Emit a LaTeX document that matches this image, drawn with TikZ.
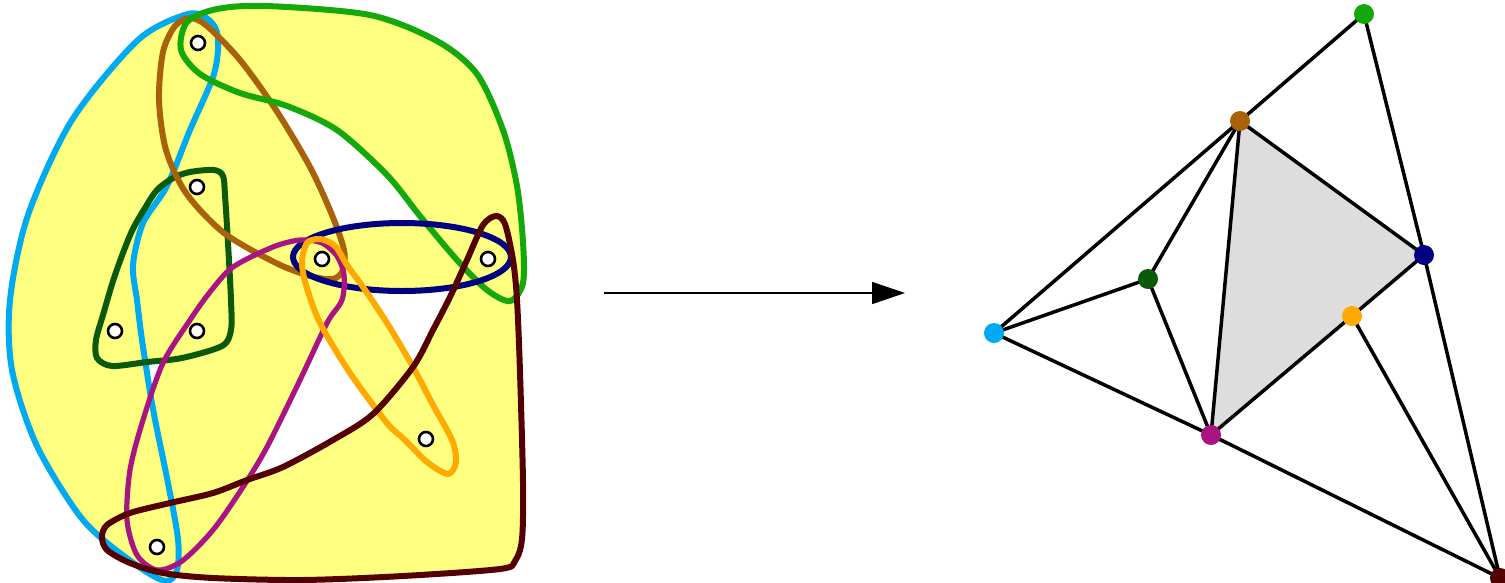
\documentclass[tikz,border=0pt]{standalone}
\usetikzlibrary{arrows.meta}

\definecolor{hyYellow}{RGB}{255,255,128}
\definecolor{cLightBlue}{RGB}{0,170,240}
\definecolor{cGreen}{RGB}{20,168,10}
\definecolor{cBrown}{RGB}{170,98,10}
\definecolor{cDarkGreen}{RGB}{10,90,10}
\definecolor{cNavy}{RGB}{0,0,128}
\definecolor{cMagenta}{RGB}{170,20,130}
\definecolor{cOrange}{RGB}{255,170,0}
\definecolor{cMaroon}{RGB}{85,0,0}
\definecolor{faceGray}{RGB}{221,221,221}

% closed hyperedge outlines
\newcommand\lbLoop{plot[smooth cycle] coordinates {(188,14) (209,20) (218,37) (214,74) (190,130) (167,186) (143,223) (133,265) (137,300) (142,340) (153,409) (168,483) (178,539) (177,570) (165,581) (132,562) (83,520) (37,446) (12,370) (10,300) (28,215) (72,120) (138,40)}}
\newcommand\grLoop{plot[smooth cycle] coordinates {(187,22) (217,9) (267,6) (370,15) (437,41) (477,74) (503,130) (517,186) (523,242) (523,283) (510,301) (487,290) (457,260) (420,216) (387,175) (337,130) (287,106) (240,93) (200,74) (181,50)}}
\newcommand\brLoop{plot[smooth cycle] coordinates {(190,18) (207,26) (240,60) (276,110) (310,167) (332,215) (344,250) (343,270) (333,279) (310,276) (276,263) (224,233) (186,193) (166,150) (159,100) (163,52) (175,26)}}
\newcommand\dgLoop{plot[smooth cycle] coordinates {(173,178) (190,172) (214,170) (223,176) (225,195) (228,243) (231,300) (231,330) (222,346) (182,358) (147,362) (112,366) (97,358) (96,340) (103,315) (115,275) (131,233) (145,208) (157,190)}}
\newcommand\nvLoop{(402,257) ellipse [x radius=109pt, y radius=34pt]}
\newcommand\mgLoop{plot[smooth cycle] coordinates {(300,240) (322,243) (337,256) (344,275) (342,300) (327,323) (300,380) (267,447) (243,487) (213,530) (182,561) (157,570) (137,555) (127,520) (130,470) (143,420) (163,363) (190,320) (210,292) (233,267) (273,247)}}
\newcommand\orLoop{plot[smooth cycle] coordinates {(307,243) (320,239) (335,246) (347,265) (363,287) (387,323) (413,367) (433,405) (452,440) (456,462) (448,474) (427,462) (405,440) (387,423) (350,373) (320,323) (306,285) (302,262)}}
\newcommand\mrLoop{plot[smooth cycle] coordinates {(496,216) (505,224) (513,260) (517,300) (520,372) (523,483) (522,539) (515,561) (500,569) (403,576) (303,580) (213,578) (163,573) (130,563) (107,550) (102,537) (107,525) (130,513) (170,503) (213,493) (247,480) (283,467) (333,440) (373,414) (413,367) (433,330) (450,297) (467,260) (483,225)}}

\begin{document}
\begin{tikzpicture}[x=1pt,y=-1pt,
  hyedge/.style={line width=6pt, line join=round},
  hyvert/.style={circle, draw=black, fill=white, line width=2.6pt, minimum size=14pt, inner sep=0pt},
  gvert/.style={circle, fill=#1, minimum size=20pt, inner sep=0pt},
  gedge/.style={line width=3.5pt, black}]
\useasboundingbox (0,0) rectangle (1505,582);

% ---- hypergraph: union of the hyperedges in yellow
\fill[hyYellow] \lbLoop;
\fill[hyYellow] \grLoop;
\fill[hyYellow] \brLoop;
\fill[hyYellow] \dgLoop;
\fill[hyYellow] \nvLoop;
\fill[hyYellow] \mgLoop;
\fill[hyYellow] \orLoop;
\fill[hyYellow] \mrLoop;

% outlines
\draw[hyedge, cLightBlue] \lbLoop;
\draw[hyedge, cDarkGreen] \dgLoop;
\draw[hyedge, cBrown] \brLoop;
\draw[hyedge, cGreen] \grLoop;
\draw[hyedge, cNavy] \nvLoop;
\draw[hyedge, cMagenta, line width=5.2pt] \mgLoop;
\draw[hyedge, cOrange] \orLoop;
\draw[hyedge, cMaroon] \mrLoop;

% vertices
\node[hyvert] (h1) at (198,43) {};
\node[hyvert] (h2) at (197,187) {};
\node[hyvert] (h3) at (115,331) {};
\node[hyvert] (h4) at (197,331) {};
\node[hyvert] (h5) at (322,259) {};
\node[hyvert] (h6) at (488,259) {};
\node[hyvert] (h7) at (426,439) {};
\node[hyvert] (h8) at (157,547) {};

% ---- arrow
\coordinate (arrS) at (604,293);
\coordinate (arrE) at (905,293);
\draw[line width=1.5pt, -{Triangle[length=33pt, width=22pt]}] (arrS) -- (arrE);

% ---- graph
\coordinate (vGr) at (1364,14);
\coordinate (vBr) at (1240,121);
\coordinate (vNv) at (1424,255);
\coordinate (vDg) at (1148,279);
\coordinate (vLb) at (994,333);
\coordinate (vOr) at (1352,316);
\coordinate (vMg) at (1211,435);
\coordinate (vMr) at (1500,578);

\fill[faceGray] (vBr) -- (vNv) -- (vOr) -- (vMg) -- cycle;

\draw[gedge] (vGr) -- (vBr);
\draw[gedge] (vGr) -- (vNv);
\draw[gedge] (vBr) -- (vLb);
\draw[gedge] (vBr) -- (vDg);
\draw[gedge] (vBr) -- (vMg);
\draw[gedge] (vBr) -- (vNv);
\draw[gedge] (vDg) -- (vLb);
\draw[gedge] (vDg) -- (vMg);
\draw[gedge] (vLb) -- (vMg);
\draw[gedge] (vNv) -- (vOr);
\draw[gedge] (vOr) -- (vMg);
\draw[gedge] (vNv) -- (vMr);
\draw[gedge] (vOr) -- (vMr);
\draw[gedge] (vMg) -- (vMr);

\node[gvert=cGreen] (nGr) at (vGr) {};
\node[gvert=cBrown] (nBr) at (vBr) {};
\node[gvert=cNavy] (nNv) at (vNv) {};
\node[gvert=cDarkGreen] (nDg) at (vDg) {};
\node[gvert=cLightBlue] (nLb) at (vLb) {};
\node[gvert=cOrange] (nOr) at (vOr) {};
\node[gvert=cMagenta] (nMg) at (vMg) {};
\node[gvert=cMaroon] (nMr) at (vMr) {};
\end{tikzpicture}
\end{document}
